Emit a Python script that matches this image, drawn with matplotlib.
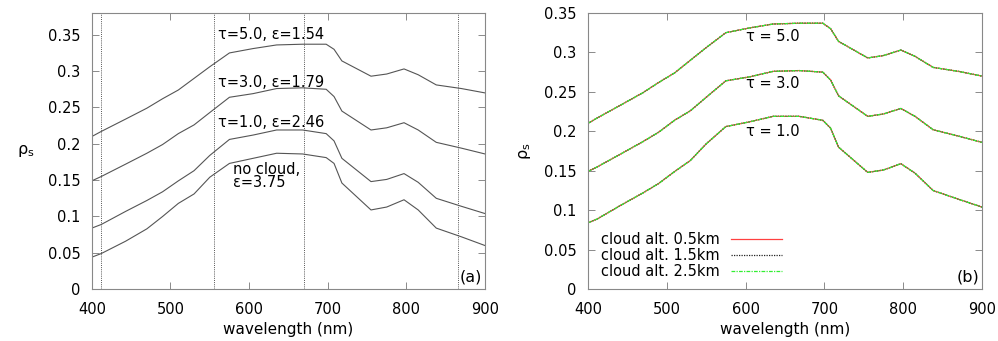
import numpy as np
import matplotlib.pyplot as plt

# wavelength nodes (nm)
wl = [400, 412, 443, 470, 490, 510, 530, 550, 575, 605, 635, 668, 698, 708, 718, 755, 775, 797, 815, 838, 870, 900]

# surface reflectance curves
tau5 = [0.210, 0.217, 0.234, 0.249, 0.262, 0.274, 0.290, 0.306, 0.325, 0.331, 0.336, 0.337, 0.337, 0.330, 0.314, 0.293, 0.296, 0.303, 0.295, 0.281, 0.276, 0.270]
tau3 = [0.149, 0.155, 0.172, 0.187, 0.199, 0.214, 0.226, 0.243, 0.264, 0.269, 0.276, 0.277, 0.275, 0.265, 0.245, 0.219, 0.222, 0.229, 0.219, 0.202, 0.194, 0.186]
tau1 = [0.084, 0.089, 0.107, 0.122, 0.134, 0.149, 0.163, 0.184, 0.206, 0.212, 0.219, 0.219, 0.214, 0.204, 0.180, 0.148, 0.151, 0.159, 0.147, 0.125, 0.114, 0.104]
nocloud = [0.044, 0.049, 0.066, 0.083, 0.100, 0.118, 0.131, 0.154, 0.173, 0.180, 0.187, 0.186, 0.181, 0.173, 0.146, 0.109, 0.113, 0.123, 0.109, 0.084, 0.072, 0.060]

vlines = [412, 555, 670, 865]

labels_a = ['τ=5.0, ε=1.54', 'τ=3.0, ε=1.79', 'τ=1.0, ε=2.46', 'no cloud,\nε=3.75']
labels_b = ['τ = 5.0', 'τ = 3.0', 'τ = 1.0']
alt_labels = ['cloud alt. 0.5km', 'cloud alt. 1.5km', 'cloud alt. 2.5km']
yticks = [0, 0.05, 0.1, 0.15, 0.2, 0.25, 0.3, 0.35]
ytick_labels = ['0', '0.05', '0.1', '0.15', '0.2', '0.25', '0.3', '0.35']

plt.rcParams['font.family'] = ['DejaVu Sans']
plt.rcParams['font.size'] = 10

fig = plt.figure(figsize=(9.98, 3.41), dpi=100)
ax1 = fig.add_axes([0.092, 0.152, 0.394, 0.810])
ax2 = fig.add_axes([0.589, 0.152, 0.395, 0.810])

def style(ax):
    for s in ax.spines.values():
        s.set_color('#888888')
        s.set_linewidth(0.8)
    ax.tick_params(direction='in', top=True, right=True, length=5, width=0.6, color='#777777', labelsize=10.5)
    ax.tick_params(axis='x', pad=9)
    ax.tick_params(axis='y', pad=8)
    ax.set_xlim(400, 900)
    ax.set_xticks([400, 500, 600, 700, 800, 900])
    ax.set_xlabel('wavelength (nm)', fontsize=11, labelpad=4)

# (a)
for c in [tau5, tau3, tau1, nocloud]:
    ax1.plot(wl, c, color='#555555', lw=0.8)
for v in vlines:
    ax1.axvline(v, color='#555555', lw=0.7, ls=(0, (1, 1.2)))
ax1.set_ylim(0, 0.38)
ax1.set_yticks(yticks)
ax1.set_yticklabels(ytick_labels)
style(ax1)
ax1.set_ylabel('ρ$_\\mathregular{s}$', rotation=0, fontsize=11.5, labelpad=16, va='center')
ax1.text(561, 0.350, labels_a[0], va='center', ha='left', fontsize=10.5)
ax1.text(561, 0.285, labels_a[1], va='center', ha='left', fontsize=10.5)
ax1.text(561, 0.229, labels_a[2], va='center', ha='left', fontsize=10.5)
ax1.text(580, 0.156, labels_a[3], va='center', ha='left', linespacing=0.85, fontsize=10.5)
ax1.text(896, 0.017, '(a)', ha='right', va='center', fontsize=11.5)

# (b)
colors = ['#ff4040', '#222222', '#33ee33']
styles = ['-', (0, (1, 1)), (0, (3, 1, 1, 1))]
for i in range(3):
    for j, c in enumerate([tau5, tau3, tau1]):
        ax2.plot(wl, c, color=colors[i], ls=styles[i], lw=0.9,
                 label=alt_labels[i] if j == 0 else None)
ax2.set_ylim(0, 0.35)
ax2.set_yticks(yticks)
ax2.set_yticklabels(ytick_labels)
style(ax2)
ax2.set_ylabel('ρ$_\\mathregular{s}$', fontsize=11.5, labelpad=8)
ax2.text(600, 0.320, labels_b[0], va='center', ha='left', fontsize=10.5)
ax2.text(600, 0.260, labels_b[1], va='center', ha='left', fontsize=10.5)
ax2.text(600, 0.200, labels_b[2], va='center', ha='left', fontsize=10.5)
ax2.text(896, 0.016, '(b)', ha='right', va='center', fontsize=11.5)
leg = ax2.legend(loc='lower left', bbox_to_anchor=(0.0, -0.01), frameon=False,
                 markerfirst=False, handlelength=3.5, labelspacing=0.05,
                 handletextpad=0.8, fontsize=10.5)

fig.savefig('out.png', dpi=100)
